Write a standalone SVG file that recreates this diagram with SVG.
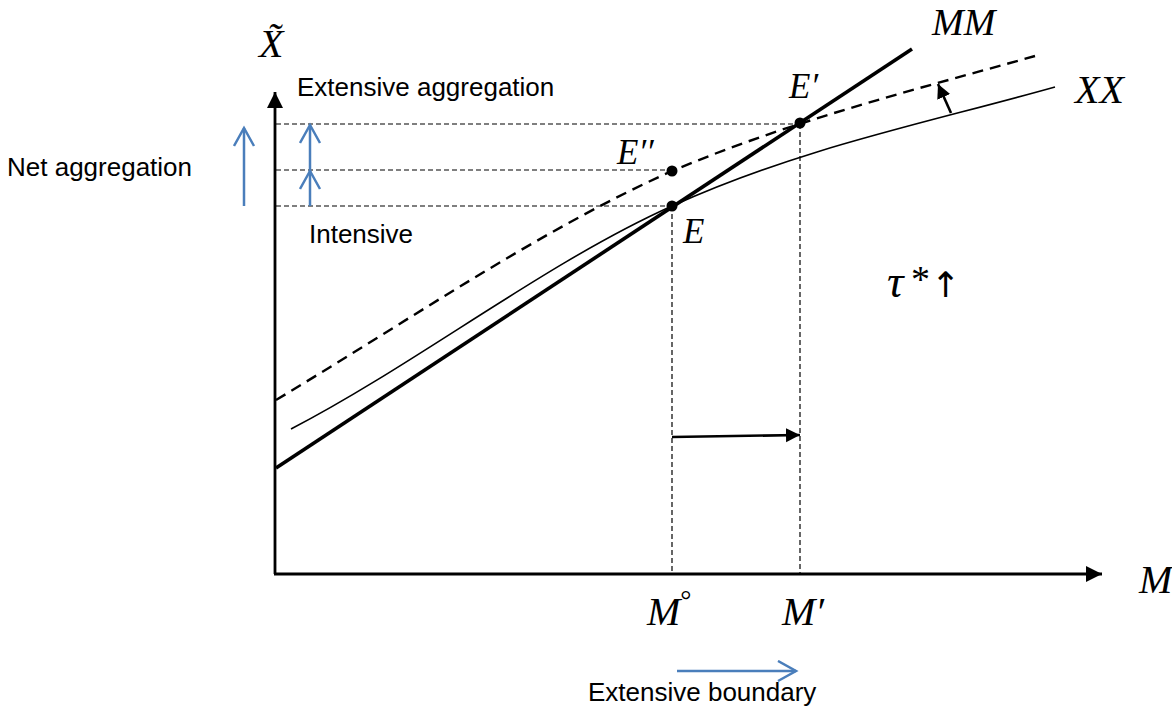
<svg xmlns="http://www.w3.org/2000/svg" width="1172" height="707" viewBox="0 0 1172 707">
<style>
.txt{font-family:"Liberation Sans",Arial,sans-serif;font-size:26px;fill:#000}
.math{font-family:"Liberation Serif","DejaVu Serif",serif;font-style:italic;fill:#000}
.guide{fill:none;stroke:#000;stroke-width:1.2;stroke-dasharray:5 3}
.blue{fill:none;stroke:#4A7EBB;stroke-width:2.5}
</style>
<defs>
<marker id="ah" markerUnits="userSpaceOnUse" markerWidth="18" markerHeight="18" refX="16" refY="8" orient="auto">
<path d="M0,0 L16,8 L0,16 Z" fill="#000"/>
</marker>
<marker id="ahs" markerUnits="userSpaceOnUse" markerWidth="16" markerHeight="16" refX="14" refY="7" orient="auto">
<path d="M0,0 L14,7 L0,14 Z" fill="#000"/>
</marker>
<marker id="bh" markerUnits="userSpaceOnUse" markerWidth="24" markerHeight="24" refX="19" refY="11" orient="auto">
<path d="M1,1 L19,11 L1,21" fill="none" stroke="#4A7EBB" stroke-width="2.5"/>
</marker>
</defs>
<rect width="1172" height="707" fill="#fff"/>

<g id="guides">
<path class="guide" d="M276,124 H800"/>
<path class="guide" d="M276,170 H672"/>
<path class="guide" d="M276,206 H672"/>
<path class="guide" d="M672,206 V573"/>
<path class="guide" d="M800,124 V573"/>
</g>

<g id="axes">
<path d="M275,574 V92" stroke="#000" stroke-width="2.8" fill="none" marker-end="url(#ah)"/>
<path d="M274,574 H1102" stroke="#000" stroke-width="2.8" fill="none" marker-end="url(#ah)"/>
</g>

<g id="curves">
<path id="XX" d="M291,429 C418,363 545,263 672,206 C800,148 927,123 1055,87" fill="none" stroke="#000" stroke-width="1.6"/>
<path id="XXshift" d="M276,400 C408,321 540,230 672,171 C793,120 914,90 1035,56" fill="none" stroke="#000" stroke-width="2.4" stroke-dasharray="11 7"/>
<path id="MMline" d="M276,468 L912,49" fill="none" stroke="#000" stroke-width="3.6"/>
</g>

<g id="connectors">
<path d="M951,113 L938,84" stroke="#000" stroke-width="2.6" fill="none" marker-end="url(#ahs)"/>
<path d="M672,437 L800,435" stroke="#000" stroke-width="2.6" fill="none" marker-end="url(#ahs)"/>
<path class="blue" d="M244,206 V128" marker-end="url(#bh)"/>
<path class="blue" d="M310,206 V171" marker-end="url(#bh)"/>
<path class="blue" d="M310,172 V125" marker-end="url(#bh)"/>
<path class="blue" d="M677,671 H796" marker-end="url(#bh)"/>
</g>

<g id="points">
<circle cx="800" cy="123" r="5.5" fill="#000"/>
<circle cx="672" cy="171" r="5.5" fill="#000"/>
<circle cx="672" cy="206" r="5.5" fill="#000"/>
</g>

<g id="labels">
<text class="txt" x="297" y="96">Extensive aggregation</text>
<text class="txt" x="7" y="176">Net aggregation</text>
<text class="txt" x="309" y="243">Intensive</text>
<text class="txt" x="588" y="701">Extensive boundary</text>
<text class="math" x="259" y="57" font-size="40">X&#x303;</text>
<text class="math" x="932" y="35" font-size="38">MM</text>
<text class="math" x="1075" y="103" font-size="40">XX</text>
<text class="math" x="1139" y="593" font-size="40">M</text>
<text class="math" x="647" y="625" font-size="40">M<tspan font-style="normal" font-size="28" dy="-16">°</tspan></text>
<text class="math" x="782" y="625" font-size="40">M′</text>
<text class="math" x="789" y="98" font-size="35">E′</text>
<text class="math" x="617" y="164" font-size="35">E′′</text>
<text class="math" x="683" y="243" font-size="35">E</text>
<text class="math" x="887" y="297" font-size="46">τ<tspan x="911" y="292" font-style="normal" font-size="38">*</tspan><tspan x="931" y="297" font-style="normal" font-family="DejaVu Sans,sans-serif" font-size="35">↑</tspan></text>
</g>
</svg>
